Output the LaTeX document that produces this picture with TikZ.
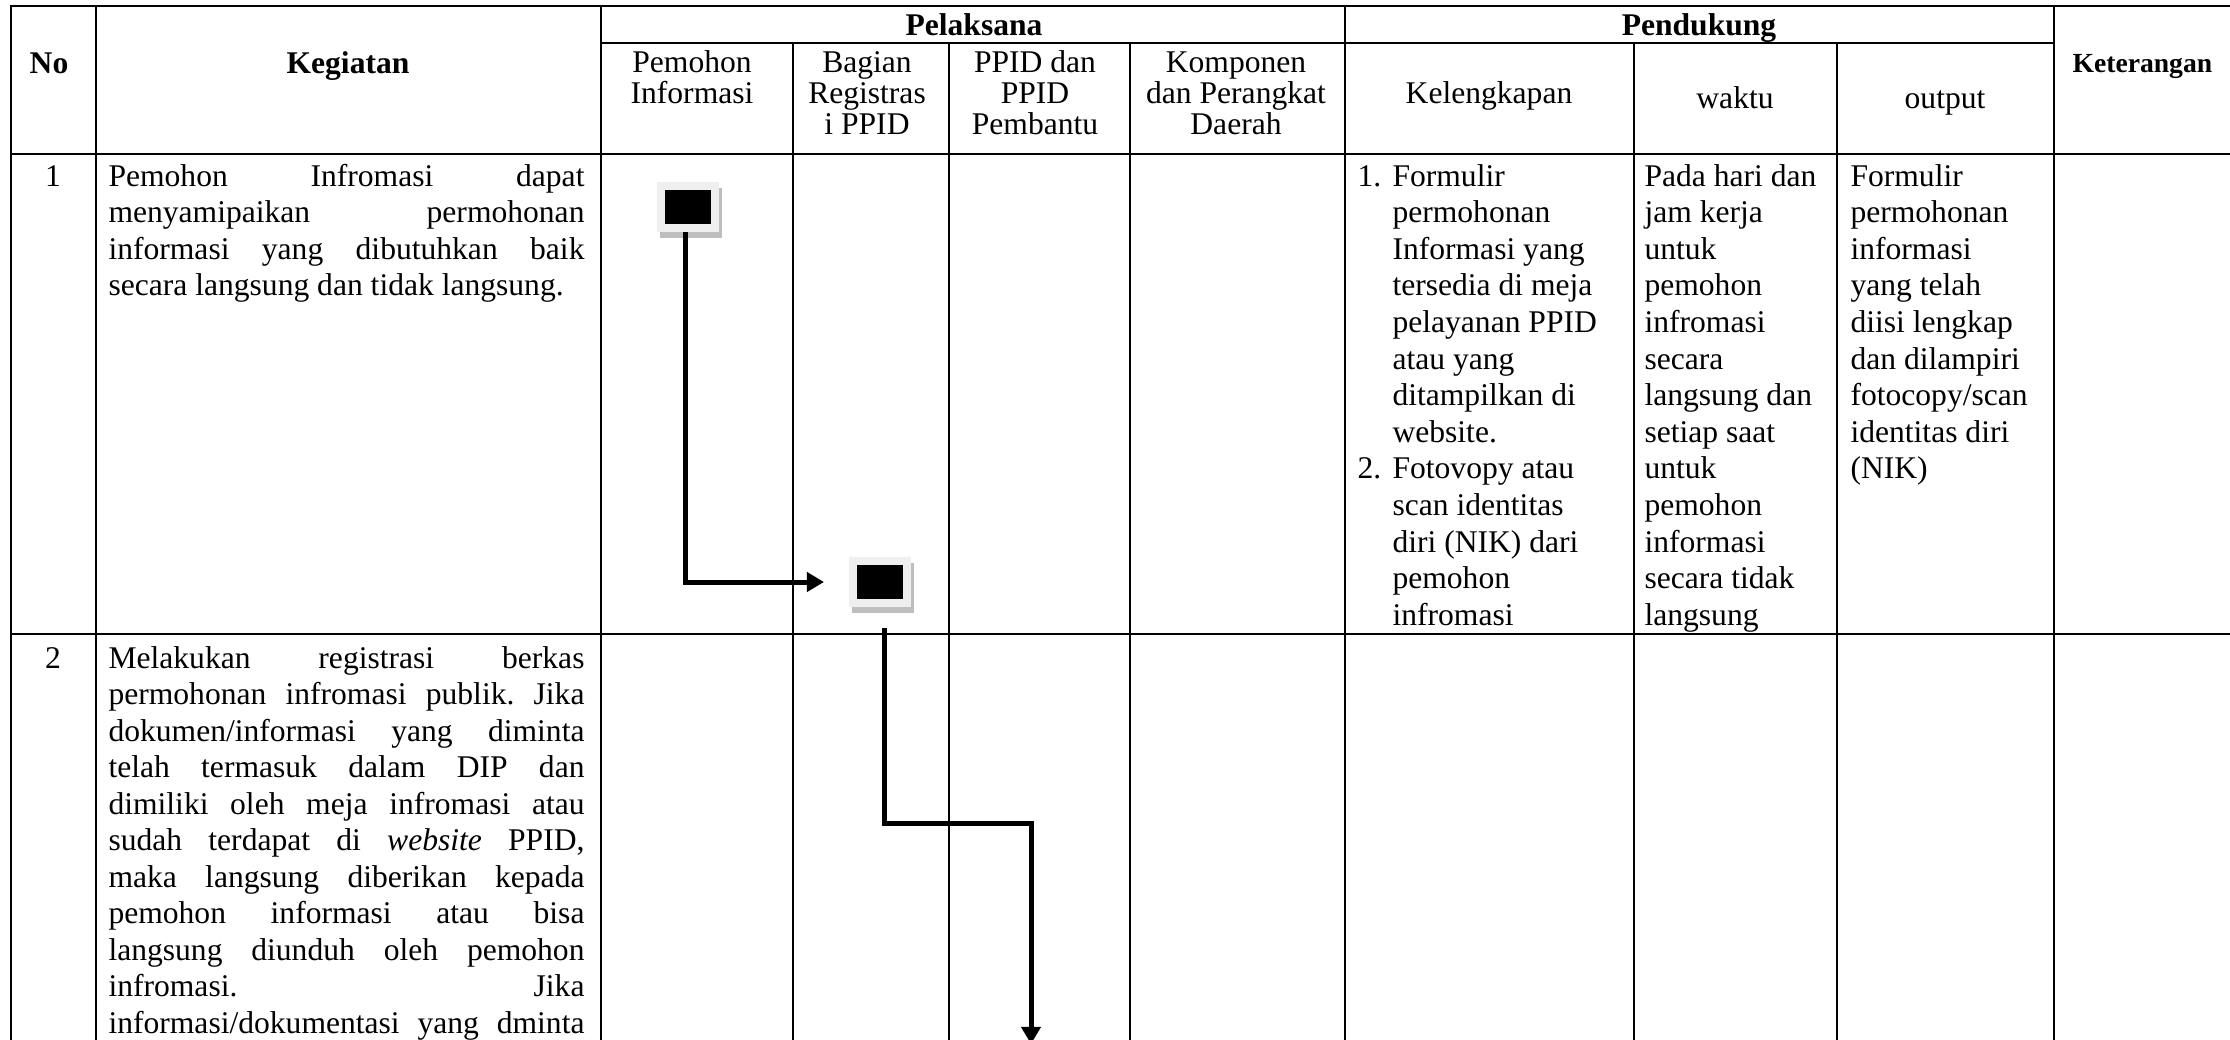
\documentclass[tikz,border=0pt]{standalone}
\usepackage{fontspec}
\setmainfont{Liberation Serif}
\usetikzlibrary{arrows.meta}
\frenchspacing
\newdimen\pxu \pxu=0.38pt
\definecolor{boxframe}{HTML}{EFEFEF}
\definecolor{boxshadow}{HTML}{BEBEBE}
\newcommand\jl[1]{\makebox[476\pxu][s]{#1}}
\begin{document}
\begin{tikzpicture}[x=0.38pt,y=-0.38pt,
  grid/.style={line width=0.95pt, line cap=rect},
  body/.style={inner sep=0pt, anchor=base west, font=\fontsize{12pt}{13.9pt}\selectfont},
  hd/.style={inner sep=0pt, anchor=base, font=\fontsize{12pt}{13.9pt}\selectfont},
  hdb/.style={inner sep=0pt, anchor=base, font=\fontsize{12pt}{13.9pt}\selectfont\bfseries},
  flowbox/.style={draw=boxframe, fill=black, line width=3.04pt,
    minimum width=20.52pt, minimum height=15.96pt, inner sep=0pt,
    preaction={draw=boxshadow, fill=boxshadow, line width=3.04pt,
      transform canvas={shift={(1.14pt,-2.28pt)}}}},
  conn/.style={line width=1.9pt, line join=miter,
    -{Triangle[length=6.5pt,width=7.2pt]}}]
\useasboundingbox (0,0) rectangle (2230,1039);
\clip (0,0) rectangle (2230,1039);
\fill[white] (0,0) rectangle (2230,1039);

% grid
\draw[grid] (11,6) -- (2232,6);
\draw[grid] (601,43) -- (2054,43);
\draw[grid] (11,154) -- (2232,154);
\draw[grid] (11,634) -- (2232,634);
\foreach \xx in {11,96,601,1345,2054} \draw[grid] (\xx,6) -- (\xx,1045);
\foreach \xx in {793,949,1130,1634,1837} \draw[grid] (\xx,43) -- (\xx,1045);

% header
\node[hdb] (hno) at (49,73) {No};
\node[hdb] (hkeg) at (348,73) {Kegiatan};
\node[hdb] (hpel) at (974,35) {Pelaksana};
\node[hdb] (hpen) at (1699,35) {Pendukung};
\node[inner sep=0pt, anchor=base west, font=\fontsize{10.5pt}{12pt}\selectfont\bfseries] (hket) at (2072,72) {Keterangan};
\node[hd] (hpm1) at (692,72) {Pemohon};
\node[hd] (hpm2) at (692,103) {Informasi};
\node[hd] (hbg1) at (867,72) {Bagian};
\node[hd] (hbg2) at (867,103) {Registras};
\node[hd] (hbg3) at (867,134) {i PPID};
\node[hd] (hpp1) at (1035,72) {PPID dan};
\node[hd] (hpp2) at (1035,103) {PPID};
\node[hd] (hpp3) at (1035,134) {Pembantu};
\node[hd] (hkp1) at (1236,72) {Komponen};
\node[hd] (hkp2) at (1236,103) {dan Perangkat};
\node[hd] (hkp3) at (1236,134) {Daerah};
\node[hd] (hkl) at (1489,103) {Kelengkapan};
\node[hd] (hwk) at (1735,108) {waktu};
\node[hd] (hout) at (1945,108) {output};

% row 1
\node[hd] (n1) at (53,186) {1};
\foreach \t [count=\i from 0] in {\jl{Pemohon Infromasi dapat},\jl{menyamipaikan permohonan},\jl{informasi yang dibutuhkan baik},secara langsung dan tidak langsung.}
  \node[body] (kg1-\i) at (108,{186+36.6*\i}) {\t};
\node[body] (kln1) at (1357,186) {1.};
\node[body] (kln2) at (1357,{186+36.6*8}) {2.};
\foreach \t [count=\i from 0] in {Formulir,permohonan,Informasi yang,tersedia di meja,pelayanan PPID,atau yang,ditampilkan di,website.,Fotovopy atau,scan identitas,diri (NIK) dari,pemohon,infromasi}
  \node[body] (kl-\i) at (1392,{186+36.6*\i}) {\t};
\foreach \t [count=\i from 0] in {Pada hari dan,jam kerja,untuk,pemohon,infromasi,secara,langsung dan,setiap saat,untuk,pemohon,informasi,secara tidak,langsung}
  \node[body] (wk-\i) at (1644,{186+36.6*\i}) {\t};
\foreach \t [count=\i from 0] in {Formulir,permohonan,informasi,yang telah,diisi lengkap,dan dilampiri,fotocopy/scan,identitas diri,(NIK)}
  \node[body] (op-\i) at (1850,{186+36.6*\i}) {\t};

% row 2
\node[hd] (n2) at (53,668) {2};
\foreach \t [count=\i from 0] in {\jl{Melakukan registrasi berkas},\jl{permohonan infromasi publik. Jika},\jl{dokumen/informasi yang diminta},\jl{telah termasuk dalam DIP dan},\jl{dimiliki oleh meja infromasi atau},\jl{sudah terdapat di \textit{website} PPID,},\jl{maka langsung diberikan kepada},\jl{pemohon informasi atau bisa},\jl{langsung diunduh oleh pemohon},\jl{infromasi. Jika},\jl{informasi/dokumentasi yang dminta}}
  \node[body] (kg2-\i) at (108,{668+36.5*\i}) {\t};

% flow
\node[flowbox] (b1) at (688,207) {};
\node[flowbox] (b2) at (880,582) {};
\coordinate (t1) at ([xshift=-9.5pt]b2.west);
\coordinate (k2) at (1031,823);
\coordinate (e2) at (1031,1044);
\draw[conn] ([xshift=-1.14pt]b1.south) |- (t1);
\draw[conn] ([xshift=1.52pt,yshift=-8pt]b2.south) |- (k2) -- (e2);
\end{tikzpicture}
\end{document}
